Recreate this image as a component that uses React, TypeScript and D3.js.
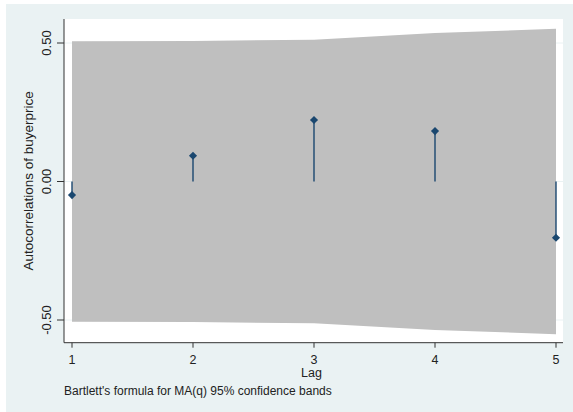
import React from "react";
import * as d3 from "d3";

const lags = [1, 2, 3, 4, 5];
const acValues = [-0.049, 0.093, 0.222, 0.182, -0.203];
const bandUpper = [0.506, 0.507, 0.512, 0.536, 0.551];
const bandLower = [-0.506, -0.507, -0.512, -0.536, -0.551];
const yTicks = [0.5, 0, -0.5];
const yTickLabels = ["0.50", "0.00", "-0.50"];
const xTicks = [1, 2, 3, 4, 5];

const W = 573;
const H = 412;
const plot = { left: 64, right: 563, top: 19, bottom: 342.7 };
const font = "'Liberation Sans', Arial, sans-serif";

export default function App() {
  const x = d3.scaleLinear().domain([1, 5]).range([72, 556]);
  const y = d3.scaleLinear().domain([-0.5, 0.5]).range([320, 43]);

  const bandData = lags.map((l, i) => ({ l, lo: bandLower[i], hi: bandUpper[i] }));
  const area = d3
    .area<{ l: number; lo: number; hi: number }>()
    .x((d) => x(d.l))
    .y0((d) => y(d.lo))
    .y1((d) => y(d.hi))
    .curve(d3.curveLinear);

  const diamond = d3.symbol().type(d3.symbolDiamond2).size(42)();

  return (
    <svg
      width={W}
      height={H}
      style={{ position: "absolute", left: 0, top: 0, display: "block" }}
      fontFamily={font}
    >
      <rect x={0} y={0} width={W} height={H} fill="#ffffff" />
      <rect x={6} y={4} width={W - 6} height={H - 4} fill="#eaf2f3" />
      <rect
        x={plot.left}
        y={plot.top}
        width={plot.right - plot.left}
        height={plot.bottom - plot.top}
        fill="#ffffff"
      />
      {yTicks.map((t) => (
        <line
          key={"g" + t}
          x1={plot.left}
          x2={plot.right}
          y1={y(t)}
          y2={y(t)}
          stroke="#eaf2f3"
          strokeWidth={1}
        />
      ))}
      <path d={area(bandData) || ""} fill="#bfbfbf" stroke="none" />
      {lags.map((l, i) => (
        <line
          key={"s" + l}
          x1={x(l)}
          x2={x(l)}
          y1={y(0)}
          y2={y(acValues[i])}
          stroke="#1a476f"
          strokeWidth={1.4}
        />
      ))}
      {lags.map((l, i) => (
        <path
          key={"m" + l}
          d={diamond || ""}
          transform={`translate(${x(l)},${y(acValues[i])})`}
          fill="#1a476f"
        />
      ))}
      {/* axes */}
      <line x1={plot.left} x2={plot.left} y1={plot.top} y2={plot.bottom} stroke="#333333" strokeWidth={1} />
      <line x1={plot.left} x2={plot.right} y1={plot.bottom} y2={plot.bottom} stroke="#333333" strokeWidth={1} />
      {yTicks.map((t, i) => (
        <g key={"yt" + t}>
          <line x1={plot.left - 7} x2={plot.left} y1={y(t)} y2={y(t)} stroke="#333333" strokeWidth={1} />
          <text
            transform={`translate(51,${y(t)}) rotate(-90)`}
            textAnchor="middle"
            fontSize={13}
            fill="#222222"
          >
            {yTickLabels[i]}
          </text>
        </g>
      ))}
      {xTicks.map((t) => (
        <g key={"xt" + t}>
          <line x1={x(t)} x2={x(t)} y1={plot.bottom} y2={plot.bottom + 5} stroke="#333333" strokeWidth={1} />
          <text x={x(t)} y={363.5} textAnchor="middle" fontSize={12.5} fill="#222222">
            {t}
          </text>
        </g>
      ))}
      <text x={(plot.left + plot.right) / 2 - 2} y={377} textAnchor="middle" fontSize={12.5} fill="#222222">
        Lag
      </text>
      <text
        transform={`translate(33,${(plot.top + plot.bottom) / 2}) rotate(-90)`}
        textAnchor="middle"
        fontSize={13.5}
        fill="#222222"
      >
        Autocorrelations of buyerprice
      </text>
      <text x={64} y={395} fontSize={12} fill="#222222">
        Bartlett's formula for MA(q) 95% confidence bands
      </text>
    </svg>
  );
}
